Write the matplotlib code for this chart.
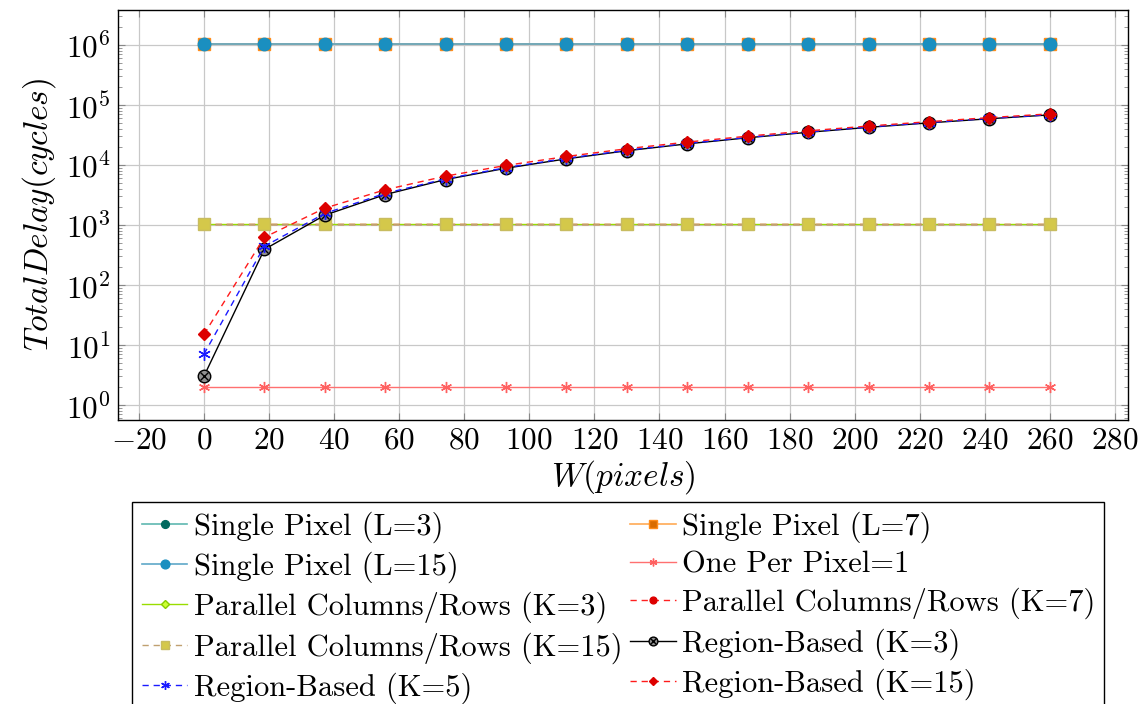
import numpy as np
import matplotlib
matplotlib.use("Agg")
import matplotlib.pyplot as plt
from matplotlib.ticker import LogLocator, MultipleLocator, NullFormatter
from matplotlib.legend_handler import HandlerTuple

plt.rcParams['font.family'] = 'cmr10'
plt.rcParams['mathtext.fontset'] = 'cm'
plt.rcParams['axes.formatter.use_mathtext'] = True
plt.rcParams['axes.unicode_minus'] = False
plt.rcParams['lines.dashed_pattern'] = (4.5, 3.5)

# W (pixels)
w_pixels = [0, 18.57, 37.14, 55.71, 74.29, 92.86, 111.43, 130,
            148.57, 167.14, 185.71, 204.29, 222.86, 241.43, 260]

# total delay (cycles)
single_l3 = [1048576] * 15
single_l7 = [1048576] * 15
single_l15 = [1048576] * 15
one_per_pixel = [2] * 15
par_k3 = [1024] * 15
par_k7 = [1024] * 15
par_k15 = [1024] * 15
region_k3 = [3, 390, 1450, 3200, 5700, 8800, 12600, 17200, 22400, 28300,
             34900, 42200, 50100, 58700, 68000]
region_k5 = [7, 440, 1550, 3350, 5850, 9000, 12900, 17500, 22800, 28700,
             35400, 42700, 50700, 59400, 68600]
region_k15 = [15, 620, 1900, 3850, 6500, 9800, 13800, 18600, 24000, 30100,
              36900, 44400, 52500, 61300, 70800]

asterisk = (6, 2, 0)

fig = plt.figure(figsize=(11.41, 7.04), dpi=100)
ax = fig.add_axes([0.1034, 0.4034, 0.8852, 0.5824])

h = {}
h['l3'], = ax.plot(w_pixels, single_l3, '-', color='#5fb8b0', lw=1.2, marker='o', ms=8,
                   mfc='#00695f', mec='#00695f', label='Single Pixel (L=3)')
h['l7'], = ax.plot(w_pixels, single_l7, '-', color='#ffaa55', lw=1.2, marker='s', ms=9,
                   mfc='#d96c00', mec='#ff8c1a', label='Single Pixel (L=7)')
h['l15'], = ax.plot(w_pixels, single_l15, '-', color='#5fa8c8', lw=1.2, marker='o', ms=9,
                    mfc='#1a8fc0', mec='#1a8fc0', label='Single Pixel (L=15)')
h['opp'], = ax.plot(w_pixels, one_per_pixel, '-', color='#ff7070', lw=1.0, marker=asterisk, ms=8,
                    mec='#ff6060', mew=1.0, label='One Per Pixel=1')
h['p3'], = ax.plot(w_pixels, par_k3, '-', color='#99dd00', lw=1.0, marker='D', ms=6,
                   mfc='#ccff33', mec='#88cc00', label='Parallel Columns/Rows (K=3)')
h['p7'], = ax.plot(w_pixels, par_k7, '--', color='#ff2020', lw=1.0, marker='o', ms=7,
                   mfc='#dd0000', mec='#dd0000', label='Parallel Columns/Rows (K=7)')
h['p15'], = ax.plot(w_pixels, par_k15, '--', color='#c0a070', lw=1.0, marker='s', ms=9,
                    mfc='#d4c84a', mec='#c8bc60', label='Parallel Columns/Rows (K=15)')
r3a, = ax.plot(w_pixels, region_k3, '-', color='black', lw=1.0, marker='o', ms=9,
               mfc='#909090', mec='black', mew=1.0)
r3b, = ax.plot(w_pixels, region_k3, ' ', marker='x', ms=6, mec='black', mew=1.0)
h['r5'], = ax.plot(w_pixels, region_k5, '--', color='#1a1aff', lw=1.0, marker=asterisk, ms=9,
                   mec='#1a1aff', mew=1.0, label='Region-Based (K=5)')
h['r15'], = ax.plot(w_pixels, region_k15, '--', color='#ff1a1a', lw=1.0, marker='D', ms=6,
                    mfc='#dd0000', mec='#dd0000', label='Region-Based (K=15)')

ax.set_yscale('log')
ax.set_xlim(-26.4, 284)
ax.set_ylim(10 ** -0.25, 10 ** 6.58)
ax.xaxis.set_major_locator(MultipleLocator(20))
ax.yaxis.set_major_locator(LogLocator(base=10, numticks=20))
ax.yaxis.set_minor_locator(LogLocator(base=10, subs=np.arange(2, 10), numticks=20))
ax.yaxis.set_minor_formatter(NullFormatter())
ax.grid(True, which='major', color='#c8c8c8', lw=0.9)
ax.set_axisbelow(True)
ax.tick_params(which='both', direction='in', top=True, right=True, labelsize=22.5,
               color='#888888')
ax.tick_params(which='major', length=5, pad=5)
ax.tick_params(which='minor', length=3)
for s in ax.spines.values():
    s.set_linewidth(1.0)

ax.set_xlabel(r'$W(pixels)$', fontsize=24, labelpad=2)
ax.set_ylabel(r'$TotalDelay(cycles)$', fontsize=24, labelpad=6)

handles = [h['l3'], h['l15'], h['p3'], h['p15'], h['r5'],
           h['l7'], h['opp'], h['p7'], (r3a, r3b), h['r15']]
labels = ['Single Pixel (L=3)', 'Single Pixel (L=15)', 'Parallel Columns/Rows (K=3)',
          'Parallel Columns/Rows (K=15)', 'Region-Based (K=5)',
          'Single Pixel (L=7)', 'One Per Pixel=1', 'Parallel Columns/Rows (K=7)',
          'Region-Based (K=3)', 'Region-Based (K=15)']
leg = fig.legend(handles, labels, ncol=2, loc='upper center', bbox_to_anchor=(0.542, 0.287),
                 fontsize=22, frameon=True, fancybox=False, edgecolor='black', framealpha=1,
                 handlelength=1.5, handletextpad=0.2, columnspacing=0.25, labelspacing=0.29,
                 borderpad=0.3, markerscale=0.7, borderaxespad=0,
                 handler_map={tuple: HandlerTuple(ndivide=1)})
leg.get_frame().set_linewidth(1.0)

fig.savefig('out.png', dpi=100)
